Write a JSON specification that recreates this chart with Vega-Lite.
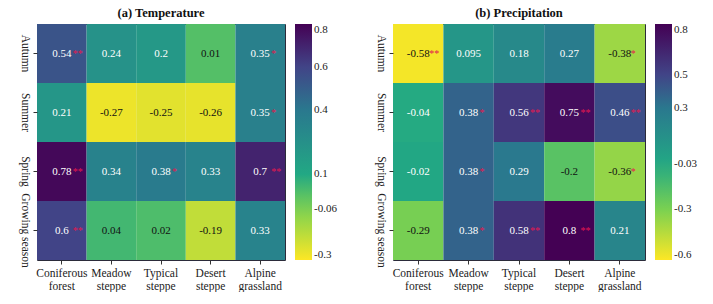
{
  "$schema": "https://vega.github.io/schema/vega-lite/v6.json",
  "background": "white",
  "padding": {"left": 18, "top": 6, "right": 0, "bottom": 0},
  "config": {
    "font": "Liberation Serif",
    "view": {"stroke": "#2b2b3a", "strokeWidth": 1},
    "axis": {"labelFont": "Liberation Serif", "labelFontSize": 11.5, "labelColor": "#222", "tickColor": "#333", "tickSize": 4, "domain": false, "grid": false, "title": null, "labelOverlap": false},
    "legend": {"labelFont": "Liberation Serif", "labelFontSize": 11, "labelColor": "#222", "gradientLength": 236, "gradientThickness": 17, "gradientStrokeWidth": 0, "offset": 10, "labelOffset": 6, "padding": 0},
    "title": {"font": "Liberation Serif", "fontSize": 12.5, "fontWeight": "bold", "color": "#111", "offset": 5},
    "concat": {"spacing": 36}
  },
  "datasets": {
    "temp": [
      {"season": "Autumn", "type": "Coniferous forest", "value": 0.54, "stars": "**"},
      {"season": "Autumn", "type": "Meadow steppe", "value": 0.24, "stars": ""},
      {"season": "Autumn", "type": "Typical steppe", "value": 0.2, "stars": ""},
      {"season": "Autumn", "type": "Desert steppe", "value": 0.01, "stars": ""},
      {"season": "Autumn", "type": "Alpine grassland", "value": 0.35, "stars": "*"},
      {"season": "Summer", "type": "Coniferous forest", "value": 0.21, "stars": ""},
      {"season": "Summer", "type": "Meadow steppe", "value": -0.27, "stars": ""},
      {"season": "Summer", "type": "Typical steppe", "value": -0.25, "stars": ""},
      {"season": "Summer", "type": "Desert steppe", "value": -0.26, "stars": ""},
      {"season": "Summer", "type": "Alpine grassland", "value": 0.35, "stars": "*"},
      {"season": "Spring", "type": "Coniferous forest", "value": 0.78, "stars": "**"},
      {"season": "Spring", "type": "Meadow steppe", "value": 0.34, "stars": ""},
      {"season": "Spring", "type": "Typical steppe", "value": 0.38, "stars": "*"},
      {"season": "Spring", "type": "Desert steppe", "value": 0.33, "stars": ""},
      {"season": "Spring", "type": "Alpine grassland", "value": 0.7, "stars": "**"},
      {"season": "Growing season", "type": "Coniferous forest", "value": 0.6, "stars": "**"},
      {"season": "Growing season", "type": "Meadow steppe", "value": 0.04, "stars": ""},
      {"season": "Growing season", "type": "Typical steppe", "value": 0.02, "stars": ""},
      {"season": "Growing season", "type": "Desert steppe", "value": -0.19, "stars": ""},
      {"season": "Growing season", "type": "Alpine grassland", "value": 0.33, "stars": ""}
    ],
    "prec": [
      {"season": "Autumn", "type": "Coniferous forest", "value": -0.58, "stars": "**"},
      {"season": "Autumn", "type": "Meadow steppe", "value": 0.095, "stars": ""},
      {"season": "Autumn", "type": "Typical steppe", "value": 0.18, "stars": ""},
      {"season": "Autumn", "type": "Desert steppe", "value": 0.27, "stars": ""},
      {"season": "Autumn", "type": "Alpine grassland", "value": -0.38, "stars": "*"},
      {"season": "Summer", "type": "Coniferous forest", "value": -0.04, "stars": ""},
      {"season": "Summer", "type": "Meadow steppe", "value": 0.38, "stars": "*"},
      {"season": "Summer", "type": "Typical steppe", "value": 0.56, "stars": "**"},
      {"season": "Summer", "type": "Desert steppe", "value": 0.75, "stars": "**"},
      {"season": "Summer", "type": "Alpine grassland", "value": 0.46, "stars": "**"},
      {"season": "Spring", "type": "Coniferous forest", "value": -0.02, "stars": ""},
      {"season": "Spring", "type": "Meadow steppe", "value": 0.38, "stars": "*"},
      {"season": "Spring", "type": "Typical steppe", "value": 0.29, "stars": ""},
      {"season": "Spring", "type": "Desert steppe", "value": -0.2, "stars": ""},
      {"season": "Spring", "type": "Alpine grassland", "value": -0.36, "stars": "*"},
      {"season": "Growing season", "type": "Coniferous forest", "value": -0.29, "stars": ""},
      {"season": "Growing season", "type": "Meadow steppe", "value": 0.38, "stars": "*"},
      {"season": "Growing season", "type": "Typical steppe", "value": 0.58, "stars": "**"},
      {"season": "Growing season", "type": "Desert steppe", "value": 0.8, "stars": "**"},
      {"season": "Growing season", "type": "Alpine grassland", "value": 0.21, "stars": ""}
    ]
  },
  "resolve": {"scale": {"color": "independent"}, "legend": {"color": "independent"}},
  "hconcat": [
    {
      "title": "(a) Temperature",
      "width": 248,
      "height": 236,
      "data": {"name": "temp"},
      "encoding": {
        "x": {"field": "type", "type": "nominal", "sort": ["Coniferous forest", "Meadow steppe", "Typical steppe", "Desert steppe", "Alpine grassland"], "axis": {"labelAngle": 0, "labelExpr": "split(datum.label, ' ')", "labelLineHeight": 13, "labelPadding": 3, "labelBaseline": "top"}},
        "y": {"field": "season", "type": "nominal", "sort": ["Autumn", "Summer", "Spring", "Growing season"], "axis": {"labelAngle": 90, "labelAlign": "center", "labelBaseline": "top", "labelPadding": 3}}
      },
      "layer": [
        {
          "mark": {"type": "rect"},
          "encoding": {
            "color": {"field": "value", "type": "quantitative",
              "scale": {"domain": [-0.3, -0.06, 0.1, 0.4, 0.6, 0.8], "range": ["#fde725", "#7ad151", "#22a884", "#2a788e", "#414487", "#440154"], "interpolate": "rgb"},
              "legend": {"title": null, "values": [-0.3, -0.06, 0.1, 0.4, 0.6, 0.8], "labelExpr": "'' + datum.value", "direction": "vertical", "orient": "right"}}
          }
        },
        {
          "mark": {"type": "text", "fontSize": 11, "baseline": "middle", "font": "Liberation Serif"},
          "encoding": {
            "text": {"field": "value", "type": "nominal"},
            "color": {"condition": {"test": "datum.value < 0.1", "value": "#111111"}, "value": "#ffffff"}
          }
        },
        {
          "mark": {"type": "text", "fontSize": 10, "align": "left", "baseline": "middle", "dx": 11, "color": "#e3174f", "font": "Liberation Serif"},
          "encoding": {"text": {"field": "stars", "type": "nominal"}}
        }
      ]
    },
    {
      "title": "(b) Precipitation",
      "width": 252,
      "height": 236,
      "data": {"name": "prec"},
      "encoding": {
        "x": {"field": "type", "type": "nominal", "sort": ["Coniferous forest", "Meadow steppe", "Typical steppe", "Desert steppe", "Alpine grassland"], "axis": {"labelAngle": 0, "labelExpr": "split(datum.label, ' ')", "labelLineHeight": 13, "labelPadding": 3, "labelBaseline": "top"}},
        "y": {"field": "season", "type": "nominal", "sort": ["Autumn", "Summer", "Spring", "Growing season"], "axis": {"labelAngle": 90, "labelAlign": "center", "labelBaseline": "top", "labelPadding": 3}}
      },
      "layer": [
        {
          "mark": {"type": "rect"},
          "encoding": {
            "color": {"field": "value", "type": "quantitative",
              "scale": {"domain": [-0.6, -0.3, -0.03, 0.3, 0.5, 0.8], "range": ["#fde725", "#7ad151", "#22a884", "#2a788e", "#414487", "#440154"], "interpolate": "rgb"},
              "legend": {"title": null, "values": [-0.6, -0.3, -0.03, 0.3, 0.5, 0.8], "labelExpr": "'' + datum.value", "direction": "vertical", "orient": "right"}}
          }
        },
        {
          "mark": {"type": "text", "fontSize": 11, "baseline": "middle", "font": "Liberation Serif"},
          "encoding": {
            "text": {"field": "value", "type": "nominal"},
            "color": {"condition": {"test": "datum.value < -0.1", "value": "#111111"}, "value": "#ffffff"}
          }
        },
        {
          "mark": {"type": "text", "fontSize": 10, "align": "left", "baseline": "middle", "dx": 11, "color": "#e3174f", "font": "Liberation Serif"},
          "encoding": {"text": {"field": "stars", "type": "nominal"}}
        }
      ]
    }
  ]
}
